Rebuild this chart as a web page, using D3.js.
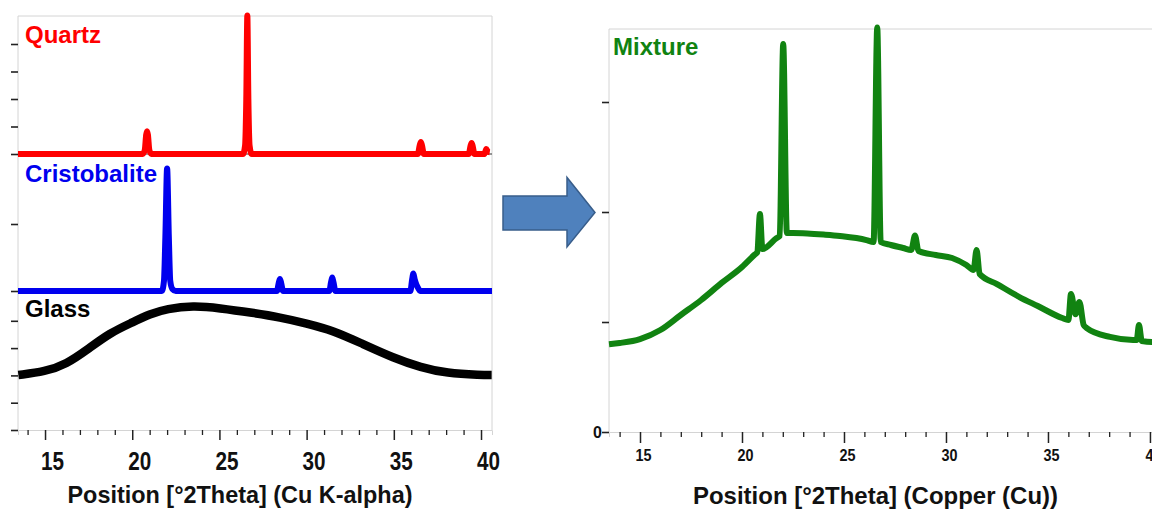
<!DOCTYPE html>
<html>
<head>
<meta charset="utf-8">
<script src="https://cdn.jsdelivr.net/npm/d3@7"></script>
<style>
  body { margin: 0; background: #fff; }
  svg { display: block; }
  text { font-family: "Liberation Sans", Arial, sans-serif; font-weight: bold; }
</style>
</head>
<body>
<svg id="chart" width="1152" height="513"></svg>
<script>
// ---- data (2theta in degrees, intensity in counts) ----
var quartzTheta  = [13.45, 20.6, 20.72, 20.8, 20.85, 20.9, 20.98, 21.1, 26.35, 26.47, 26.54, 26.6, 26.66, 26.73, 26.85, 36.38, 36.48, 36.55, 36.62, 36.72, 39.3, 39.4, 39.46, 39.52, 39.62, 40.2, 40.3, 40.4, 40.5]
var quartzCounts = [0, 0, 150, 700, 830, 700, 150, 0, 0, 300, 2000, 5040, 2000, 300, 0, 0, 300, 440, 300, 0, 0, 300, 400, 300, 0, 0, 180, 80, 60]

var cristoTheta  = [13.45, 21.7, 21.82, 21.9, 22.0, 22.1, 22.18, 22.3, 22.5, 28.3, 28.4, 28.47, 28.54, 28.65, 31.3, 31.4, 31.47, 31.54, 31.65, 35.95, 36.05, 36.12, 36.2, 36.3, 36.4, 36.5, 40.63]
var cristoCounts = [0, 0, 150, 800, 1830, 800, 150, 30, 0, 0, 120, 180, 120, 0, 0, 130, 200, 130, 0, 0, 170, 260, 170, 90, 40, 0, 0]

var glassTheta  = [13.47, 15.0, 16.24, 17.39, 18.73, 19.97, 21.02, 21.98, 23.5, 24.97, 26.94, 28.47, 30.0, 31.53, 33.06, 35.03, 36.54, 38.03, 40.0, 40.61]
var glassCounts = [2015, 2136, 2418, 2930, 3560, 3930, 4250, 4440, 4553, 4470, 4290, 4128, 3908, 3640, 3200, 2626, 2297, 2077, 2015, 2015]

var mixTheta  = [13.48, 14, 15, 16, 17, 18, 19, 20, 20.6, 20.75, 20.88, 21.0, 21.7, 21.85, 22.02, 22.2, 22.5, 23.2, 24, 24.8, 26.1, 26.45, 26.63, 26.8, 27.3, 27.9, 28.3, 28.48, 28.65, 29.5, 30.3, 31.0, 31.35, 31.5, 31.65, 32.5, 33.6, 34.5, 35.7, 36.0, 36.13, 36.35, 36.54, 36.75, 36.9, 38.04, 39.17, 39.35, 39.46, 39.6, 40.1, 40.6]
var mixCounts = [797, 809, 845, 927, 1064, 1200, 1355, 1500, 1609, 1636, 1982, 1664, 1764, 1782, 3527, 1809, 1809, 1805, 1795, 1782, 1745, 1727, 3677, 1727, 1700, 1673, 1655, 1786, 1645, 1609, 1582, 1518, 1473, 1655, 1436, 1345, 1227, 1145, 1036, 1018, 1255, 1070, 1182, 973, 945, 864, 836, 836, 973, 827, 818, 818]

var xMajorTicks = [15, 20, 25, 30, 35, 40]
var quartzYTicks = [0, 1000, 2000, 3000, 4000]
var cristoYTicks = [0, 1000]
var glassYTicks  = [0, 1000, 2000, 3000, 4000]
var mixYTicks    = [0, 1000, 2000, 3000]

var labelNames = ["Quartz", "Cristobalite", "Glass", "Mixture"]
var axisTitles = ["Position [\u00B02Theta] (Cu K-alpha)", "Position [\u00B02Theta] (Copper (Cu))"]

// ---- layout ----
var svg = d3.select("#chart")
var border = "#d4d4d4"

var xL = d3.scaleLinear().domain([13.45, 40.63]).range([18, 492])
var xR = d3.scaleLinear().domain([13.48, 40.6]).range([609, 1162.2])

var yQuartz = d3.scaleLinear().domain([0, 5000]).range([154, 16.5])
var yCristo = d3.scaleLinear().domain([0, 2000]).range([291, 157])
var yGlass  = d3.scaleLinear().domain([0, 5000]).range([430, 293.5])
var yMix    = d3.scaleLinear().domain([0, 3000]).range([432, 102])

var minorTicks = d3.range(14, 41).filter(function (d) { return xMajorTicks.indexOf(d) < 0 })

function zip(a, b) { return a.map(function (v, i) { return [v, b[i]] }) }

// ---- frames ----
function frame(x0, y0, x1, y1) {
  var g = svg.append("g")
  g.append("line").attr("x1", x0).attr("x2", x0).attr("y1", y0).attr("y2", y1).attr("stroke", border)
  g.append("line").attr("x1", x0).attr("x2", x1).attr("y1", y0).attr("y2", y0).attr("stroke", border)
  g.append("line").attr("x1", x1).attr("x2", x1).attr("y1", y0).attr("y2", y1).attr("stroke", border)
}
frame(18, 16, 492, 430)
frame(609, 29, 1160, 432)

// ---- x axes ----
function bottomAxis(scale, yPos, big, labelY, dx, fontSize, textLen) {
  var minor = svg.append("g").attr("transform", "translate(0," + yPos + ")")
    .call(d3.axisBottom(scale).tickValues(minorTicks).tickSize(5).tickFormat(""))
  minor.select(".domain").attr("stroke", border)
  minor.selectAll(".tick line").attr("stroke", "#222").attr("stroke-width", 1.3)

  var major = svg.append("g").attr("transform", "translate(0," + yPos + ")")
    .call(d3.axisBottom(scale).tickValues(xMajorTicks).tickSize(big).tickFormat(d3.format("d")))
  major.select(".domain").remove()
  major.selectAll(".tick line").attr("stroke", "#222").attr("stroke-width", 1.5)
  var t = major.selectAll(".tick text")
    .attr("y", labelY).attr("dy", 0).attr("dx", dx)
    .attr("fill", "#111").attr("font-size", fontSize)
  if (textLen) t.attr("textLength", textLen).attr("lengthAdjust", "spacingAndGlyphs")
}
bottomAxis(xL, 430, 10, 40, 7, 26, 23)
bottomAxis(xR, 432, 11, 29, 3, 17, 16)

// ---- y ticks ----
function leftTicks(scale, vals, xPos, fmt) {
  var g = svg.append("g").attr("transform", "translate(" + xPos + ",0)")
    .call(d3.axisLeft(scale).tickValues(vals).tickSize(7).tickPadding(0).tickFormat(fmt || ""))
  g.select(".domain").remove()
  g.selectAll(".tick line").attr("stroke", "#222").attr("stroke-width", 1.6)
  g.selectAll(".tick text").attr("font-size", 16).attr("fill", "#111")
}
leftTicks(yQuartz, quartzYTicks, 18)
leftTicks(yCristo, cristoYTicks, 18)
leftTicks(yGlass, glassYTicks, 18)
leftTicks(yMix, mixYTicks, 609, function (d) { return d === 0 ? "0" : "" })

// ---- curves ----
function drawCurve(xs, ys, thetas, counts, color, width, curve) {
  var line = d3.line()
    .x(function (d) { return xs(d[0]) })
    .y(function (d) { return ys(d[1]) })
    .curve(curve || d3.curveMonotoneX)
  svg.append("path")
    .datum(zip(thetas, counts))
    .attr("d", line)
    .attr("fill", "none")
    .attr("stroke", color)
    .attr("stroke-width", width)
    .attr("stroke-linejoin", "round")
}
// thin zero line under the quartz pattern
svg.append("line").attr("x1", 18).attr("x2", 492).attr("y1", yQuartz(0)).attr("y2", yQuartz(0)).attr("stroke", "#333").attr("stroke-width", 1)

drawCurve(xL, yGlass, glassTheta, glassCounts, "#000", 8.5, d3.curveBasis)
drawCurve(xL, yCristo, cristoTheta, cristoCounts, "#0000ee", 6)
drawCurve(xL, yQuartz, quartzTheta, quartzCounts, "#ff0000", 6)
drawCurve(xR, yMix, mixTheta, mixCounts, "#118311", 6)

// ---- panel labels ----
var labels = [
  { text: labelNames[0], x: 25, y: 43, color: "#ff0000" },
  { text: labelNames[1], x: 25, y: 182, color: "#0000ee" },
  { text: labelNames[2], x: 25, y: 317, color: "#000" },
  { text: labelNames[3], x: 613, y: 55, color: "#118311" }
]
svg.append("g").selectAll("text").data(labels).enter().append("text")
  .attr("x", function (d) { return d.x })
  .attr("y", function (d) { return d.y })
  .attr("fill", function (d) { return d.color })
  .attr("font-size", 24)
  .text(function (d) { return d.text })

// ---- axis titles ----
svg.append("text").attr("x", 240).attr("y", 503).attr("text-anchor", "middle")
  .attr("font-size", 24).attr("fill", "#111")
  .attr("textLength", 345).attr("lengthAdjust", "spacingAndGlyphs")
  .text(axisTitles[0])
svg.append("text").attr("x", 875.5).attr("y", 504).attr("text-anchor", "middle")
  .attr("font-size", 24).attr("fill", "#111")
  .attr("textLength", 365).attr("lengthAdjust", "spacingAndGlyphs")
  .text(axisTitles[1])

// ---- block arrow between the panels ----
var arrow = [[503, 196], [567, 196], [567, 177.5], [595, 212.5], [567, 247], [567, 230], [503, 230]]
svg.append("polygon")
  .attr("points", arrow.map(function (p) { return p.join(",") }).join(" "))
  .attr("fill", "#4f81bd")
  .attr("stroke", "#385d8a")
  .attr("stroke-width", 1.5)
</script>
</body>
</html>
